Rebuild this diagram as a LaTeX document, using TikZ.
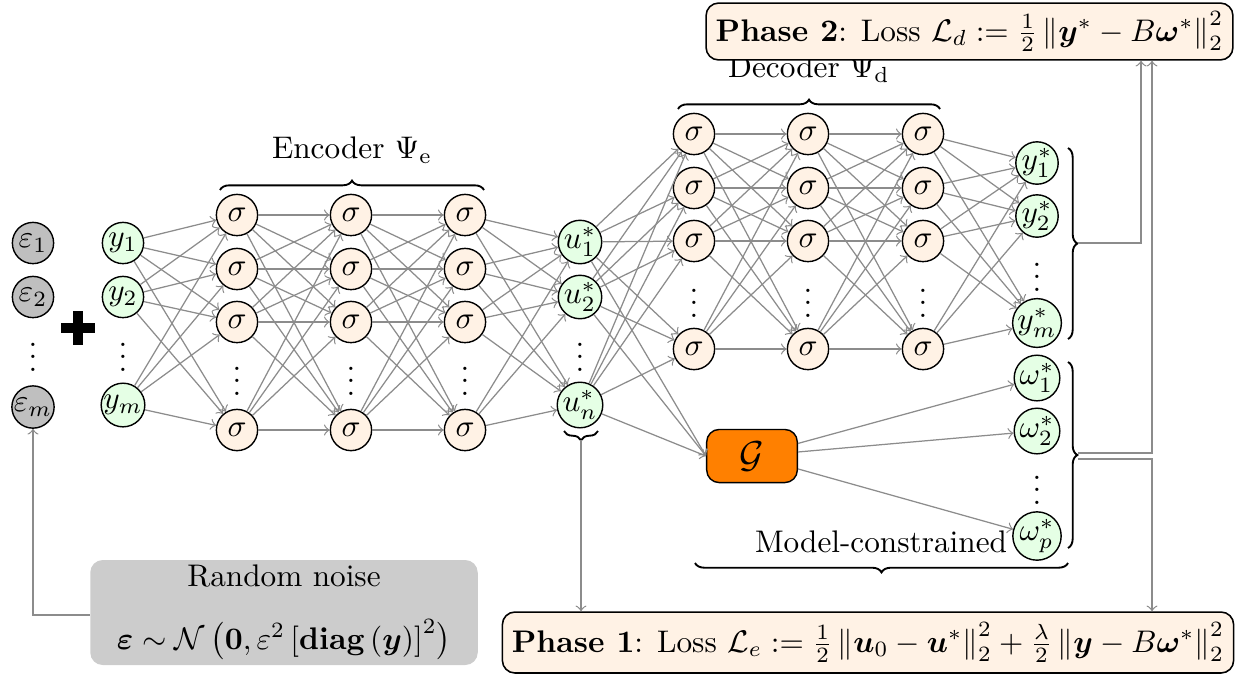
\documentclass[tikz,border=0pt]{standalone}
\usepackage{amsmath,amssymb,bm}
\usetikzlibrary{decorations.pathreplacing,calc}
\newcommand{\mydots}{\vbox{\baselineskip4pt\lineskiplimit0pt\hbox{.}\hbox{.}\hbox{.}}}
\tikzset{
  neuron/.style={circle,draw=black,fill=orange!10,minimum size=13.2pt,inner sep=0pt,line width=0.45pt},
  io/.style={neuron,fill=green!10},
  noisenode/.style={neuron,fill=gray!50},
  conn/.style={->,draw=black!45,line width=0.4pt},
  brc/.style={decorate,decoration={brace,amplitude=3pt},line width=0.6pt},
  phase/.style={draw=black,fill=orange!10,rounded corners=4pt,line width=0.5pt,inner sep=0pt},
  noisebox/.style={fill=gray!40,rounded corners=4pt,inner sep=0pt,align=center},
  gbox/.style={draw=black,fill=orange,rounded corners=4pt,minimum width=29pt,minimum height=17pt,inner sep=0pt,line width=0.45pt},
  dots/.style={inner sep=0pt}
}
\begin{document}
\begin{tikzpicture}[x=0.32pt,y=-0.32pt]
\useasboundingbox (0,0) rectangle (1244,677);
% noise nodes
\node[noisenode] (eps1) at (33,243) {$\varepsilon_1$};
\node[noisenode] (eps2) at (33,297) {$\varepsilon_2$};
\node[dots] (epsd) at (33,357) {\mydots};
\node[noisenode] (epsm) at (33,407) {$\varepsilon_m$};
% plus
\draw[line width=3.2pt] (61,328) -- (95,328) (78,311) -- (78,345);
% inputs
\node[io] (y1) at (123,243) {$y_1$};
\node[io] (y2) at (123,297) {$y_2$};
\node[dots] (yd) at (123,357) {\mydots};
\node[io] (ym) at (123,405) {$y_m$};
% encoder
\foreach \c/\x in {1/237,2/351,3/465}{
  \foreach \r/\y in {1/215,2/269,3/322,4/430}
    \node[neuron] (e\c\r) at (\x,\y) {$\sigma$};
  \node[dots] (ed\c) at (\x,381) {\mydots};
}
% latent
\node[io] (u1) at (580,242) {$u_1^*$};
\node[io] (u2) at (580,297) {$u_2^*$};
\node[dots] (ud) at (580,357) {\mydots};
\node[io] (un) at (580,405) {$u_n^*$};
% decoder
\foreach \c/\x in {1/694,2/808,3/923}{
  \foreach \r/\y in {1/134,2/188,3/241,4/349}
    \node[neuron] (d\c\r) at (\x,\y) {$\sigma$};
  \node[dots] (dd\c) at (\x,303) {\mydots};
}
% outputs
\node[io] (ys1) at (1037,163) {$y_1^*$};
\node[io] (ys2) at (1037,216) {$y_2^*$};
\node[dots] (ysd) at (1037,277) {\mydots};
\node[io] (ysm) at (1037,323) {$y_m^*$};
\node[io] (w1) at (1037,378) {$\omega_1^*$};
\node[io] (w2) at (1037,431) {$\omega_2^*$};
\node[dots] (wd) at (1037,490) {\mydots};
\node[io] (wp) at (1037,536) {$\omega_p^*$};
% G
\node[gbox] (G) at (752,456) {\large$\mathcal{G}$};
% connections
\foreach \i in {1,2,m}\foreach \r in {1,...,4} \draw[conn] (y\i) -- (e1\r);
\foreach \r in {1,...,4}\foreach \s in {1,...,4}{
  \draw[conn] (e1\r) -- (e2\s);
  \draw[conn] (e2\r) -- (e3\s);
  \draw[conn] (d1\r) -- (d2\s);
  \draw[conn] (d2\r) -- (d3\s);
}
\foreach \r in {1,...,4}\foreach \i in {1,2,n} \draw[conn] (e3\r) -- (u\i);
\foreach \i in {1,2,n}{
  \foreach \r in {1,...,4} \draw[conn] (u\i) -- (d1\r);
  \draw[conn] (u\i) -- (G.west);
}
\foreach \r in {1,...,4}\foreach \i in {1,2,m} \draw[conn] (d3\r) -- (ys\i);
\foreach \i in {1,2,p} \draw[conn] (G) -- (w\i);
% braces
\draw[brc] (220,190) -- (484,190) node[midway,above=5pt] (encl) {Encoder $\Psi_{\mathrm{e}}$};
\draw[brc] (678,109) -- (940,109) node[midway,above=5pt] (decl) {Decoder $\Psi_{\mathrm{d}}$};
\draw[brc] (598,431) -- (564,431);
\coordinate (untip) at (581,440);
\draw[brc] (1068,563) -- (695,563);
\node (mcl) at (881,542) {Model-constrained};
\draw[brc] (1068,148) -- (1068,339);
\coordinate (ytip) at (1078,243);
\draw[brc] (1068,362) -- (1068,548);
\coordinate (wtipa) at (1078,453);
\coordinate (wtipb) at (1078,459);
% boxes
\node[phase,minimum width=168.6pt,minimum height=18.2pt] (p2) at (969.5,31.5)
  {\textbf{Phase 2}: Loss $\mathcal{L}_d := \frac{1}{2}\left\|\bm{y}^* - B\bm{\omega}^*\right\|_2^2$};
\node[phase,minimum width=234pt,minimum height=19.5pt] (p1) at (868,642.5)
  {\textbf{Phase 1}: Loss $\mathcal{L}_e := \frac{1}{2}\left\|\bm{u}_0 - \bm{u}^*\right\|_2^2 + \frac{\lambda}{2}\left\|\bm{y} - B\bm{\omega}^*\right\|_2^2$};
\node[noisebox,minimum width=124pt,minimum height=33.6pt] (nb) at (284,612.5)
  {Random noise\\[8pt] $\bm{\varepsilon} \sim \mathcal{N}\,\bigl(\mathbf{0}, \varepsilon^2\left[\mathbf{diag}\left(\bm{y}\right)\right]^2\bigr)$};
% feedback lines
\draw[conn] (nb.west |- 0,615) -| (epsm);
\draw[conn] (untip) -- (untip |- p1.north);
\draw[conn] (ytip) -| (1141,0 |- p2.south);
\draw[conn] (wtipa) -| (1152,0 |- p2.south);
\draw[conn] (wtipb) -| (1152,0 |- p1.north);
\end{tikzpicture}
\end{document}
